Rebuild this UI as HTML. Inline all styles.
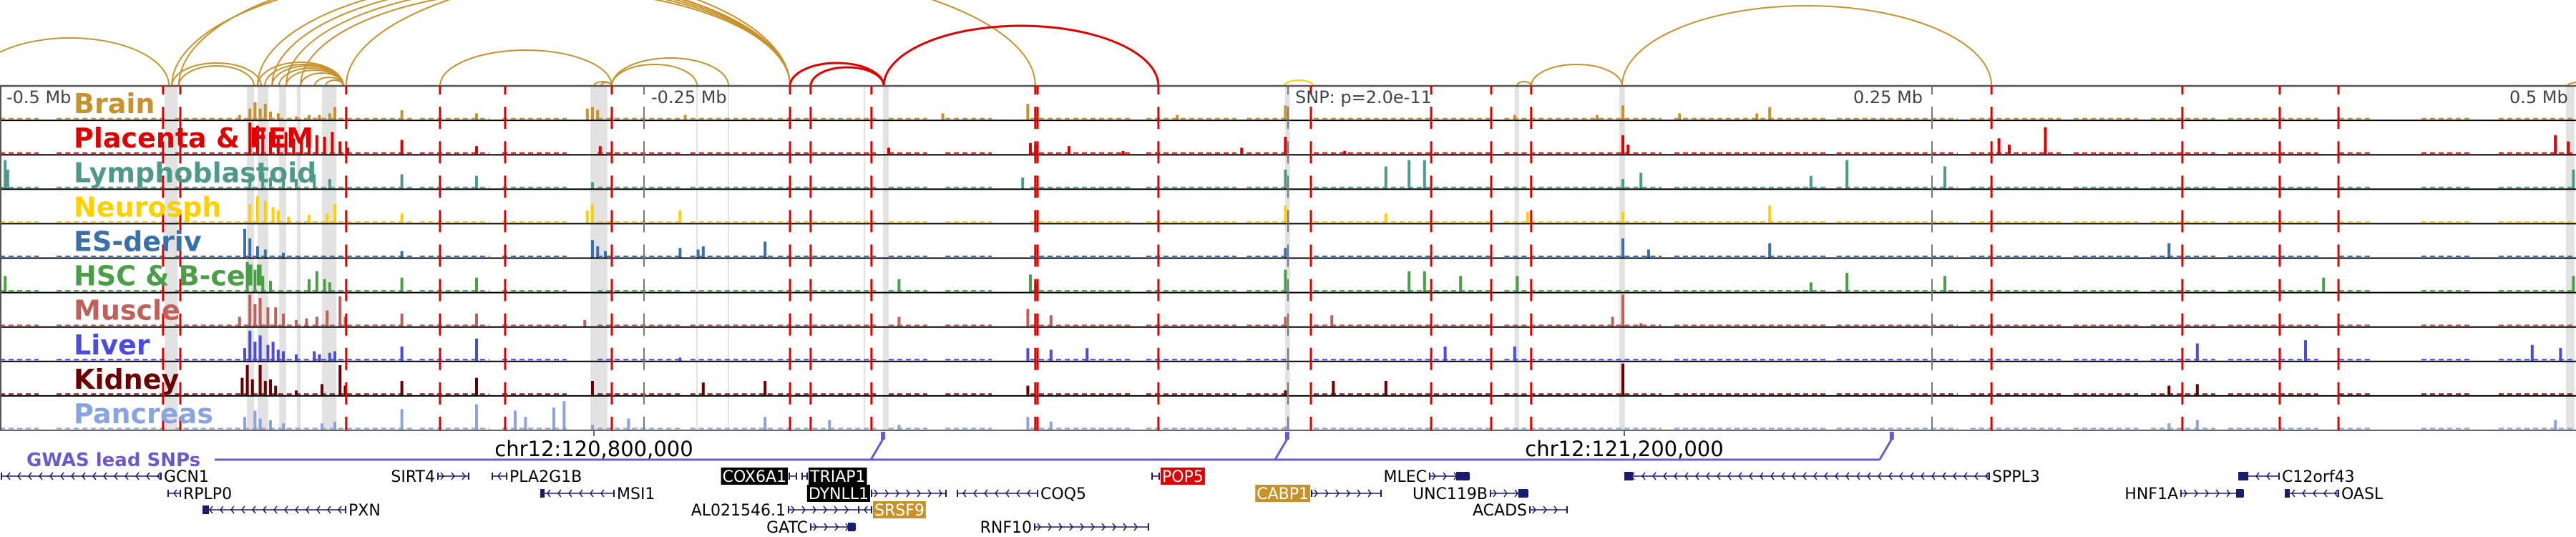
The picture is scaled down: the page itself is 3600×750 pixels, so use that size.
<!DOCTYPE html>
<html><head><meta charset="utf-8"><style>
html,body{margin:0;padding:0;background:#fff;}
svg{display:block;font-family:"DejaVu Sans","Liberation Sans",sans-serif;}
</style></head><body>
<svg id="fig" width="3600" height="750" viewBox="0 0 3600 750" xmlns="http://www.w3.org/2000/svg">
<g id="arcs"></g>
<g id="bands"></g>
<g id="tracks"></g>
<g id="vlines"></g>
<g id="labels"></g>
<g id="axis">
<text x="9" y="144" font-size="24" fill="#444">-0.5 Mb</text>
<text x="910" y="144" font-size="24" fill="#444">-0.25 Mb</text>
<text x="1810" y="144" font-size="24" fill="#444">SNP: p=2.0e-11</text>
<text x="2590" y="144" font-size="24" fill="#444">0.25 Mb</text>
<text x="3507" y="144" font-size="24" fill="#444">0.5 Mb</text>
<line x1="830" y1="601" x2="830" y2="609" stroke="#666" stroke-width="2"/>
<line x1="2270" y1="601" x2="2270" y2="609" stroke="#666" stroke-width="2"/>
<text x="830" y="637" font-size="29" text-anchor="middle" fill="#000">chr12:120,800,000</text>
<text x="2270" y="637" font-size="29" text-anchor="middle" fill="#000">chr12:121,200,000</text>
</g>
<g id="gwas">
<text x="37" y="651" font-size="26" font-weight="bold" fill="#6a5acd">GWAS lead SNPs</text>
</g>
<g id="genes"></g>
</svg>
<script>
const NS="http://www.w3.org/2000/svg";
// ---- data ----
const trackNames=["Brain","Placenta & FEM","Lymphoblastoid","Neurosph","ES-deriv","HSC & B-cell","Muscle","Liver","Kidney","Pancreas"];
const trackColors=["#c8922a","#e00000","#4e9a8a","#ffd000","#3a70aa","#4a9e45","#c0605a","#4b4bdf","#6b0000","#8aa4e0"];
const brainPeaks=[[-407,.15],[-403,.35],[-401,.55],[-399,.35],[-397,.5],[-395,.25],[-392,.2],[-385,.1],[-380,.15],[-376,.15],[-372,.2],[-370,.4],[-344,.3],[-315,.2],[-272,.35],[-270,.4],[-268,.3],[-234,.15],[-134,.2],[-101,.5],[-43,.15],[-1,.45],[88,.15],[120,.15],[130,.45],[152,.2],[187,.4],[182,.2]];
const placentaPeaks=[[-403,1],[-400,.9],[-398,.8],[-395,.7],[-392,.6],[-389,.7],[-386,.5],[-383,.4],[-380,.5],[-377,.6],[-374,.55],[-371,.7],[-368,.4],[-365,.2],[-344,.45],[-315,.25],[-267,.25],[-155,.2],[-100,.35],[-98,.3],[-85,.25],[-64,.1],[-18,.2],[-1,.55],[22,.1],[130,.6],[132,.3],[276,.5],[280,.3],[294,.85],[492,.6],[497,.4]];
const lymphPeaks=[[-498,.9],[-497,.6],[-403,.4],[-398,.5],[-395,.35],[-390,.4],[-385,.3],[-378,.45],[-372,.3],[-344,.45],[-315,.4],[-270,.2],[-103,.35],[-1,.6],[38,.7],[47,.9],[53,.9],[130,.3],[137,.5],[203,.4],[217,.9],[255,.7],[499,.6]];
const neuroPeaks=[[-403,.6],[-400,.85],[-397,.7],[-394,.5],[-392,.4],[-388,.2],[-380,.25],[-373,.3],[-370,.6],[-344,.3],[-272,.4],[-270,.6],[-236,.4],[-1,.55],[38,.3],[93,.35],[130,.35],[187,.55]];
const esPeaks=[[-405,.9],[-403,.6],[-400,.35],[-397,.25],[-390,.15],[-344,.2],[-270,.55],[-268,.35],[-265,.2],[-236,.3],[-229,.25],[-227,.35],[-203,.5],[-1,.3],[130,.6],[140,.25],[187,.45],[342,.45]];
const hscPeaks=[[-498,.5],[-404,.95],[-401,.7],[-398,.5],[-395,.35],[-380,.4],[-377,.65],[-374,.4],[-372,.3],[-344,.45],[-315,.45],[-151,.4],[-100,.55],[-98,.3],[-1,.7],[47,.65],[53,.65],[67,.5],[89,.5],[203,.3],[217,.6],[255,.5],[402,.45],[499,.5]];
const musclePeaks=[[-407,.3],[-403,1],[-401,.7],[-399,.9],[-396,.6],[-393,.6],[-390,.4],[-385,.2],[-381,.25],[-377,.3],[-373,.5],[-368,.95],[-366,.3],[-344,.4],[-315,.4],[-273,.2],[-151,.3],[-101,.55],[-92,.35],[-1,.3],[17,.35],[126,.3],[130,1],[137,.1]];
const liverPeaks=[[-405,.4],[-403,.95],[-401,.6],[-399,.8],[-396,.5],[-394,.6],[-392,.35],[-390,.3],[-385,.2],[-378,.3],[-376,.2],[-372,.25],[-370,.3],[-344,.45],[-315,.7],[-236,.1],[-101,.4],[-92,.35],[-78,.4],[61,.45],[88,.45],[353,.55],[395,.65],[483,.5],[494,.4]];
const kidneyPeaks=[[-406,.55],[-404,.95],[-402,.5],[-399,.95],[-397,.45],[-395,.5],[-393,.3],[-385,.15],[-375,.35],[-368,.95],[-366,.3],[-344,.45],[-315,.55],[-270,.45],[-227,.4],[-203,.45],[-101,.3],[-1,.15],[17.6,.45],[38,.45],[130,1],[342,.3],[353,.35]];
const pancreasPeaks=[[-405,.4],[-401,.6],[-399,.35],[-395,.3],[-390,.2],[-375,.2],[-370,.25],[-344,.65],[-315,.8],[-300,.6],[-296,.4],[-285,.7],[-281,.9],[-270,.15],[-256,.35],[-203,.4],[-178,.3],[-151,.15],[-101,.4],[-92,.25],[-1,.1],[342,.2],[353,.3],[492,.3]];
const allPeaks=[brainPeaks,placentaPeaks,lymphPeaks,neuroPeaks,esPeaks,hscPeaks,musclePeaks,liverPeaks,kidneyPeaks,pancreasPeaks];
const lowSignalRegions=[[-500,-485],[-478,-435],[-432,-340],[-337,-310],[-305,-280],[-268,-235],[-232,-200],[-198,-160],[-155,-140],[-133,-115],[-100,-60],[-55,-20],[-16,0],[10,80],[84,145],[150,210],[213,260],[265,300],[305,330],[335,360],[365,400],[408,420],[440,460],[470,500]];
const highlightRegions=[[-436,-431],[-404.2,-401.4],[-400,-395.8],[-391.7,-388.9],[-384.7,-383.3],[-375,-369.4],[-270.8,-264.2],[-229.7,-229.2],[-217.5,-217],[-164.7,-164.2],[-157.2,-155],[-1.1,0.8],[88,89.7],[128.6,130.8],[496.1,499.4]];
const redMarkers=[-436.7,-430,-365.6,-329.2,-303.9,-262.5,-193.3,-185.3,-161.7,-98.1,-97.2,-50.3,8.9,55.6,78.9,94.4,273.1,347.2,385,407.8];
const greyTicks=[-250,0,250];
const arcStarts=[-511.1,-433.3,-430.6,-433.3,-430.6,-400,-394.4,-388.9,-383.3,-400,-397.2,-394.4,-391.7,-388.9,-383.3,-377.8,-373.6,-365.6,-329.2,-269.4,-266.7,-262.5,-262.5,-193.3,-185.3,-156.9,-1.4,88.9,94.4,129.7,496.7];
const arcEnds=[-434.4,-193.3,-193.3,-398.6,-401.4,-193.3,-193.3,-193.3,-193.3,-366.7,-366.7,-366.7,-366.7,-366.7,-366.7,-366.7,-366.7,-98.1,-262.5,-262.5,-262.5,-229.4,-217.2,-156.9,-156.9,-50.3,9.7,94.4,129.7,273.1,511];
const arcHeights=[67,160,168,32,28,150,145,140,135,33,30,28,25,22,18,12,8,169,50,6,5,30,39,32,26,84,8,6,30,112,6];
const arcTypes=["g","g","g","g","g","g","g","g","g","g","g","g","g","g","g","g","g","g","g","g","g","g","g","r","r","r","y","g","g","g","g"];
const gwasSNPs=[-157.2,-0.3,234.4];

// ---- scales ----
const X=kb=>(kb+500)*3.6;
const T0=120,TH=48.1;
const trackTop=i=>T0+TH*i;
function mk(tag,attrs,parent){const e=document.createElementNS(NS,tag);for(const k in attrs)e.setAttribute(k,attrs[k]);parent.appendChild(e);return e;}

// arcs
const gArcs=document.getElementById("arcs");
const arcColor={g:"#c8922a",r:"#e00000",y:"#ffd000"};
arcStarts.forEach((s,i)=>{
  const a=X(s),b=X(arcEnds[i]);const r=(b-a)/2;
  const p=mk("path",{d:`M${a},${T0} A${r},${arcHeights[i]} 0 0 1 ${b},${T0}`,fill:"none",stroke:arcColor[arcTypes[i]],"stroke-width":arcTypes[i]==="r"?3:2},gArcs);
  
  
});

// highlight bands
const gB=document.getElementById("bands");
highlightRegions.forEach(h=>{
  const x1=X(h[0]),x2=X(h[1]);
  const r=mk("rect",{x:x1,y:T0,width:Math.max(2,x2-x1),height:TH*10,fill:"#e2e2e2"},gB);
  
  
});

// tracks
const gT=document.getElementById("tracks");
const gL=document.getElementById("labels");
trackNames.forEach((name,i)=>{
  const top=trackTop(i),bot=top+TH;
  const g=mk("g",{},gT);
  
  
  lowSignalRegions.forEach(rg=>{
    const n=mk("line",{x1:X(rg[0]),y1:bot-2.5,x2:X(rg[1]),y2:bot-2.5,stroke:trackColors[i],"stroke-width":2,"stroke-dasharray":"7 5"},g);
    
    
  });
  allPeaks[i].forEach(p=>{
    const h=p[1]*(TH-4);
    const b=mk("rect",{x:X(p[0])-2,y:bot-1-h,width:4,height:h,fill:trackColors[i]},g);
    
    
  });
  const ln=mk("line",{x1:0,y1:bot,x2:3600,y2:bot,stroke:i===9?"#666":"#000","stroke-width":2},g);
  
  
  const t=mk("text",{x:103,y:bot-10,"font-size":38,"font-weight":"bold",fill:trackColors[i]},gL);
  t.textContent=name;
  
  
});
mk("line",{x1:0,y1:T0,x2:3600,y2:T0,stroke:"#555","stroke-width":2.5},gT);
mk("line",{x1:1,y1:T0,x2:1,y2:601,stroke:"#555","stroke-width":2},gT);

// vertical markers
const gV=document.getElementById("vlines");
function dashed(x,color,w,name){
  const borders=[];for(let i=0;i<=10;i++)borders.push(trackTop(i));
  let d=`M${x},${T0} L${x},${T0+12} `;
  borders.slice(1).forEach(b=>{d+=`M${x},${b-19} L${x},${Math.min(601,b+12)} `;});
  const p=mk("path",{d,stroke:color,"stroke-width":w,fill:"none"},gV);
  
  
}
greyTicks.forEach(k=>dashed(X(k),"#777",2,"axis-tick-line"));
redMarkers.forEach(k=>dashed(X(k),"#e00000",3,"red-marker-line"));

// GWAS
const gG=document.getElementById("gwas");
const lineY=642;
let gd=`M300,${lineY} L${X(gwasSNPs[2])-17},${lineY}`;
gwasSNPs.forEach(k=>{const x=X(k);gd+=` M${x-17},${lineY} L${x},613`;});
const gp=mk("path",{d:gd,stroke:"#6a5acd","stroke-width":3,fill:"none"},gG);


gwasSNPs.forEach(k=>{
  const r=mk("rect",{x:X(k)-3,y:603,width:6,height:11,fill:"#6a5acd"},gG);
  
  
});

// genes
const rowsY=[665,689,712,736];
const genes=[
 {s:2,e:225,r:0,d:-1,n:"GCN1",side:"r"},
 {s:612,e:655,r:0,d:1,n:"SIRT4",side:"l"},
 {s:688,e:708,r:0,d:-1,n:"PLA2G1B",side:"r"},
 {s:1103,e:1113,r:0,d:1,n:"COX6A1",side:"l",box:"#000"},
 {s:1121,e:1128,r:0,d:1,n:"TRIAP1",side:"r",box:"#000"},
 {s:1610,e:1620,r:0,d:-1,n:"POP5",side:"r",box:"#e00000"},
 {s:1998,e:2053,r:0,d:1,n:"MLEC",side:"l",ex:[2035,2053]},
 {s:2272,e:2780,r:0,d:-1,n:"SPPL3",side:"r",ex:[2270,2282]},
 {s:3130,e:3185,r:0,d:-1,n:"C12orf43",side:"r",ex:[3128,3142]},
 {s:235,e:252,r:1,d:-1,n:"RPLP0",side:"r"},
 {s:757,e:858,r:1,d:-1,n:"MSI1",side:"r",ex:[755,761]},
 {s:1218,e:1322,r:1,d:1,n:"DYNLL1",side:"l",box:"#000"},
 {s:1338,e:1450,r:1,d:-1,n:"COQ5",side:"r"},
 {s:1833,e:1930,r:1,d:1,n:"CABP1",side:"l",box:"#c8922a"},
 {s:2083,e:2135,r:1,d:1,n:"UNC119B",side:"l",ex:[2122,2135]},
 {s:3048,e:3135,r:1,d:1,n:"HNF1A",side:"l",ex:[3125,3135]},
 {s:3195,e:3268,r:1,d:-1,n:"OASL",side:"r",ex:[3193,3200]},
 {s:285,e:483,r:2,d:-1,n:"PXN",side:"r",ex:[283,292]},
 {s:1102,e:1200,r:2,d:1,n:"AL021546.1",side:"l"},
 {s:1200,e:1218,r:2,d:-1,n:"SRSF9",side:"r",box:"#c8922a"},
 {s:2138,e:2190,r:2,d:1,n:"ACADS",side:"l"},
 {s:1133,e:1195,r:3,d:1,n:"GATC",side:"l",ex:[1185,1195]},
 {s:1446,e:1605,r:3,d:1,n:"RNF10",side:"l"}
];
const gN=document.getElementById("genes");
genes.forEach(G=>{
  const y=rowsY[G.r];const col="#1a1a6e";
  const g=mk("g",{},gN);
  
  
  mk("line",{x1:G.s,y1:y,x2:G.e,y2:y,stroke:col,"stroke-width":1.5},g);
  let cd="";
  for(let x=G.s+8;x<G.e-3;x+=15){
    cd+= G.d<0?`M${x+4},${y-5} L${x},${y} L${x+4},${y+5} `:`M${x-4},${y-5} L${x},${y} L${x-4},${y+5} `;
  }
  mk("path",{d:cd,stroke:col,"stroke-width":1.5,fill:"none"},g);
  mk("line",{x1:G.s,y1:y-5,x2:G.s,y2:y+5,stroke:col,"stroke-width":2},g);
  mk("line",{x1:G.e,y1:y-5,x2:G.e,y2:y+5,stroke:col,"stroke-width":2},g);
  if(G.ex)mk("rect",{x:G.ex[0],y:y-6,width:G.ex[1]-G.ex[0],height:12,fill:col},g);
  const fs=22;
  const t=mk("text",{y:y+8,"font-size":fs,fill:G.box?"#fff":"#000"},g);
  t.textContent=G.n;
  const w=t.getComputedTextLength();
  const tx=G.side==="r"?G.e+4:G.s-4-w;
  t.setAttribute("x",tx);
  if(G.box){const bx=mk("rect",{x:tx-2,y:y-12,width:w+4,height:24,fill:G.box},g);g.insertBefore(bx,t);}
});
</script>
</body></html>
